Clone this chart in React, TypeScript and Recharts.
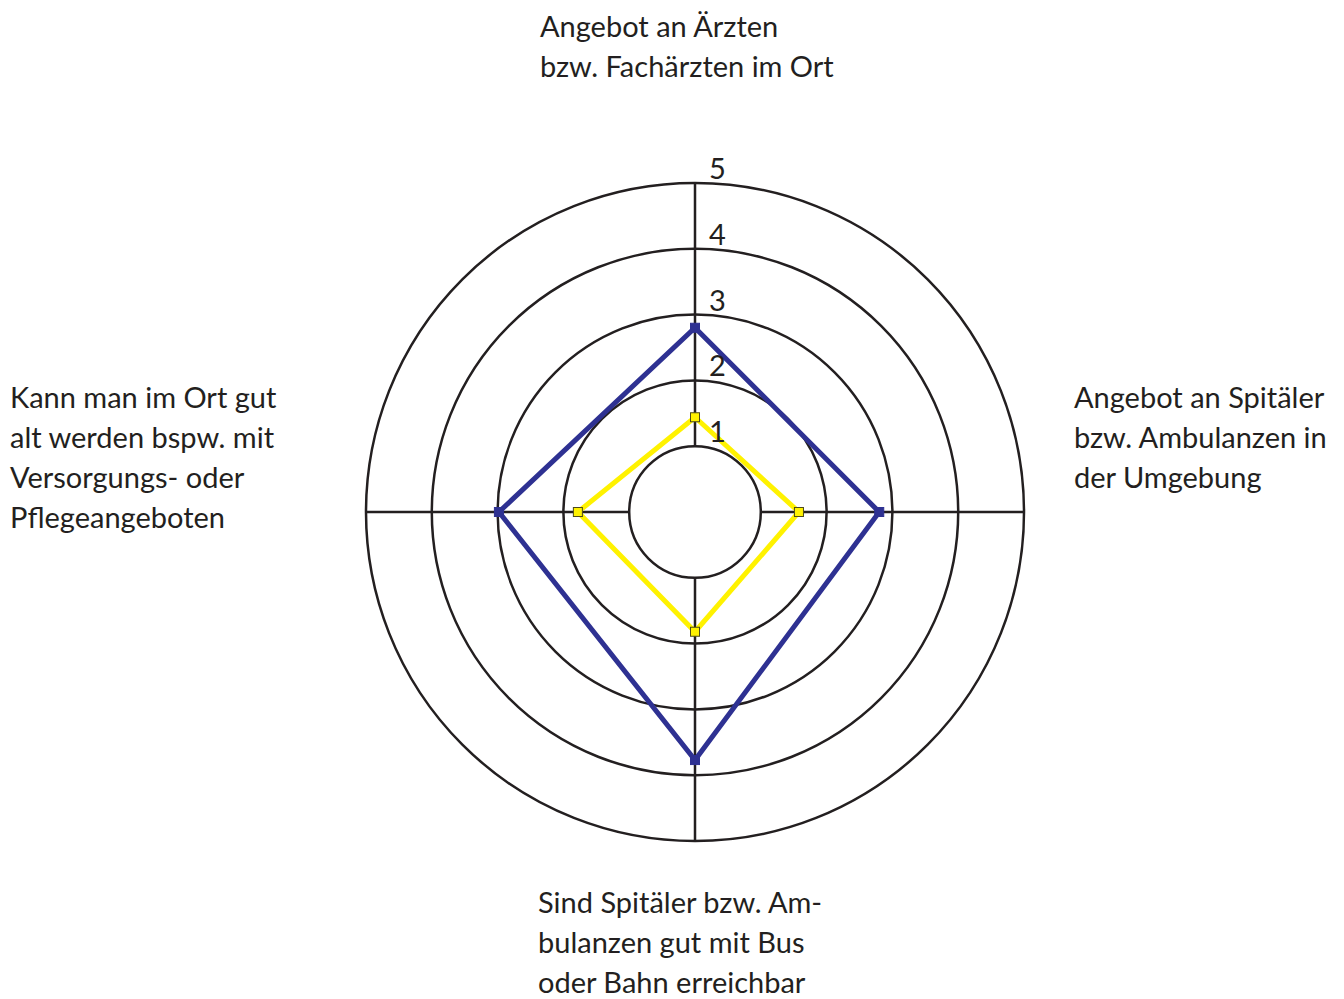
import React from 'react'
import { RadarChart, Radar, PolarGrid, PolarAngleAxis, PolarRadiusAxis } from 'recharts'

const categories = [
  ['Angebot an Ärzten', 'bzw. Fachärzten im Ort'],
  ['Angebot an Spitäler', 'bzw. Ambulanzen in', 'der Umgebung'],
  ['Sind Spitäler bzw. Am-', 'bulanzen gut mit Bus', 'oder Bahn erreichbar'],
  ['Kann man im Ort gut', 'alt werden bspw. mit', 'Versorgungs- oder', 'Pflegeangeboten'],
]
const blueValues = [2.8, 2.8, 3.77, 2.98]
const yellowValues = [1.44, 1.58, 1.82, 1.78]
const radiusTicks = [1, 2, 3, 4, 5]

const data = categories.map((lines, i) => ({
  name: lines.join(' '),
  blue: blueValues[i],
  yellow: yellowValues[i],
}))

const FONT = 'Lato, "Open Sans", sans-serif'
const OUTER = 329
const INNER = OUTER / 5

// label placement relative to the angle-axis tick point
const labelOffsets = [
  { dx: -155, dy: -138 },
  { dx: 42, dy: -104 },
  { dx: -157, dy: 64 },
  { dx: -348, dy: -104 },
]

const AngleTick = (props: any) => {
  const { x, y, index } = props
  const lines = categories[index]
  const off = labelOffsets[index]
  return (
    <text x={x + off.dx} y={y + off.dy} fill="#231f20" fontSize={29} fontFamily={FONT} textAnchor="start">
      {lines.map((l, i) => (
        <tspan key={i} x={x + off.dx} dy={i === 0 ? 0 : 40}>{l}</tspan>
      ))}
    </text>
  )
}

const RadiusTick = (props: any) => {
  const { x, y, payload } = props
  return (
    <text x={x + 14} y={y - 4} fill="#231f20" fontSize={29} fontFamily={FONT} textAnchor="start">
      {payload.value}
    </text>
  )
}

const squareDot = (color: string, size: number, stroke: string) => (props: any) => {
  const { cx, cy, index } = props
  return (
    <rect key={index} x={cx - size / 2} y={cy - size / 2} width={size} height={size} fill={color} stroke={stroke} strokeWidth={1} />
  )
}

export default function App() {
  return (
    <div style={{ width: 1336, height: 991, background: '#fff' }}>
      <RadarChart
        width={1336}
        height={991}
        data={data}
        cx={687}
        cy={504}
        innerRadius={INNER}
        outerRadius={OUTER}
        startAngle={90}
        endAngle={-270}
      >
        <PolarGrid gridType="circle" stroke="#231f20" strokeWidth={2.5} strokeOpacity={1} />
        <PolarAngleAxis dataKey="name" axisLine={false} tickLine={false} tick={<AngleTick />} />
        <Radar
          dataKey="yellow"
          stroke="#fff200"
          strokeWidth={5}
          fill="none"
          fillOpacity={0}
          strokeLinejoin="miter"
          dot={squareDot('#fff200', 9, '#4d4a1a')}
          isAnimationActive={false}
        />
        <Radar
          dataKey="blue"
          stroke="#2e3192"
          strokeWidth={5}
          fill="none"
          fillOpacity={0}
          strokeLinejoin="miter"
          dot={squareDot('#2e3192', 9, '#2e3192')}
          isAnimationActive={false}
        />
        <PolarRadiusAxis
          angle={90}
          domain={[1, 5]}
          ticks={radiusTicks}
          tickCount={5}
          axisLine={false}
          tickLine={false}
          tick={<RadiusTick />}
        />
      </RadarChart>
    </div>
  )
}
